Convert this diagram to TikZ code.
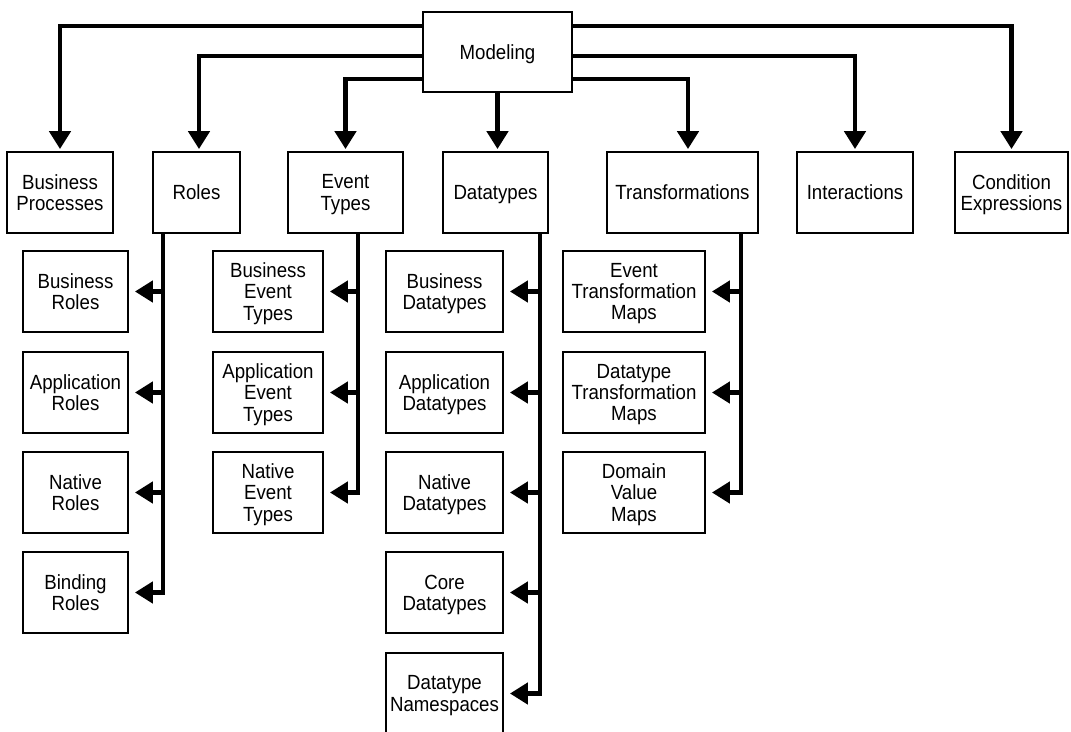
\documentclass[tikz,border=0pt]{standalone}
\usepackage{fontspec}
\setmainfont[FakeStretch=0.91]{Liberation Sans}
\usetikzlibrary{arrows.meta}
\begin{document}
\begin{tikzpicture}[x=1pt,y=-1pt,
  box/.style={draw, line width=1.8pt, inner sep=0pt, align=center, text depth=0pt,
    minimum height=81, font=\fontsize{20.5}{21.3}\selectfont},
  conn/.style={line width=4.5pt, -{Triangle[length=18pt,width=21pt]}, shorten >=2pt},
  branch/.style={conn, shorten >=6pt},
]
\useasboundingbox (0,0) rectangle (1071,731);
% top
\node[box, minimum width=149, minimum height=80] (mod) at (497.5,52) {Modeling};
\node[box, minimum width=106] (bp) at (60,192.5) {Business\\Processes};
\node[box, minimum width=87] (ro) at (196.5,192.5) {Roles};
\node[box, minimum width=115] (et) at (345.5,192.5) {Event\\Types};
\node[box, minimum width=105] (dt) at (495.5,192.5) {Datatypes};
\node[box, minimum width=151] (tr) at (682.5,192.5) {Transformations};
\node[box, minimum width=116] (in) at (855,192.5) {Interactions};
\node[box, minimum width=113] (ce) at (1011.5,192.5) {Condition\\Expressions};
% roles column
\node[box, minimum width=105] (r1) at (75.5,291.5) {Business\\Roles};
\node[box, minimum width=105] (r2) at (75.5,392.5) {Application\\Roles};
\node[box, minimum width=105] (r3) at (75.5,492.5) {Native\\Roles};
\node[box, minimum width=105] (r4) at (75.5,592.5) {Binding\\Roles};
% event types column
\node[box, minimum width=110] (e1) at (268,291.5) {Business\\Event\\Types};
\node[box, minimum width=110] (e2) at (268,392.5) {Application\\Event\\Types};
\node[box, minimum width=110] (e3) at (268,492.5) {Native\\Event\\Types};
% datatypes column
\node[box, minimum width=117] (d1) at (444.5,291.5) {Business\\Datatypes};
\node[box, minimum width=117] (d2) at (444.5,392.5) {Application\\Datatypes};
\node[box, minimum width=117] (d3) at (444.5,492.5) {Native\\Datatypes};
\node[box, minimum width=117] (d4) at (444.5,592.5) {Core\\Datatypes};
\node[box, minimum width=117] (d5) at (444.5,693.5) {Datatype\\Namespaces};
% transformations column
\node[box, minimum width=142] (t1) at (634,291.5) {Event\\Transformation\\Maps};
\node[box, minimum width=142] (t2) at (634,392.5) {Datatype\\Transformation\\Maps};
\node[box, minimum width=142] (t3) at (634,492.5) {Domain\\Value\\Maps};
% top connectors
\draw[conn] ([yshift=-15]mod.north west) -| (bp.north);
\draw[conn] ([yshift=-45]mod.north west) -| ([xshift=2.5]ro.north);
\draw[conn] ([yshift=-68]mod.north west) -| (et.north);
\draw[conn] (mod.south) -- (mod.south |- dt.north);
\draw[conn] ([yshift=-68]mod.north east) -| ([xshift=5.5]tr.north);
\draw[conn] ([yshift=-45]mod.north east) -| (in.north);
\draw[conn] ([yshift=-15]mod.north east) -| (ce.north);
% trunks
\coordinate (rt) at ([xshift=-33.5]ro.south);
\coordinate (etr) at ([xshift=12.5]et.south);
\coordinate (dtr) at ([xshift=44.5]dt.south);
\coordinate (ttr) at ([xshift=58.5]tr.south);
\foreach \n in {r1,r2,r3,r4} \draw[branch] (rt) |- (\n.east);
\foreach \n in {e1,e2,e3} \draw[branch] (etr) |- (\n.east);
\foreach \n in {d1,d2,d3,d4,d5} \draw[branch] (dtr) |- (\n.east);
\foreach \n in {t1,t2,t3} \draw[branch] (ttr) |- (\n.east);
\end{tikzpicture}
\end{document}
